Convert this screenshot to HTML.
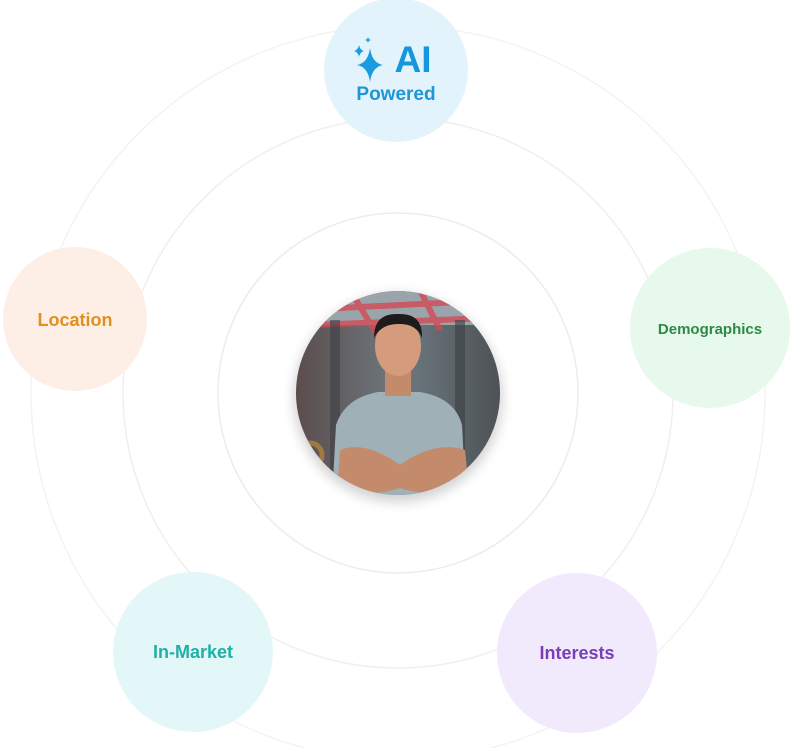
<!DOCTYPE html>
<html><head><meta charset="utf-8"><style>
html,body{margin:0;padding:0;background:#fff;}
svg{display:block}
text{font-family:"Liberation Sans",sans-serif;font-weight:bold;}
</style></head><body>
<svg width="796" height="748" viewBox="0 0 796 748" xmlns="http://www.w3.org/2000/svg">
<defs>
<filter id="sh" x="-30%" y="-30%" width="160%" height="160%"><feGaussianBlur stdDeviation="6"/></filter>
<clipPath id="cp"><circle cx="398" cy="393" r="102"/></clipPath>
<linearGradient id="bg" x1="0" y1="0" x2="1" y2="0"><stop offset="0" stop-color="#5a4a4a"/><stop offset="0.5" stop-color="#6d7a80"/><stop offset="1" stop-color="#4a4e52"/></linearGradient>
</defs>
<circle cx="398" cy="393" r="180" fill="none" stroke="#ececec" stroke-width="1.5"/>
<circle cx="398" cy="393" r="275" fill="none" stroke="#efefef" stroke-width="1.5"/>
<circle cx="398" cy="393" r="367" fill="none" stroke="#f3f3f3" stroke-width="1.5"/>

<circle cx="396" cy="70" r="72" fill="#e2f3fc"/>
<path d="M370 48 Q372 63 383 65 Q372 67 370 82 Q368 67 357 65 Q368 63 370 48Z" fill="#1a9be0"/>
<path d="M359 45 Q360 50 364 51 Q360 52 359 57 Q358 52 354 51 Q358 50 359 45Z" fill="#1a9be0"/>
<path d="M368 37 Q368.5 39.5 371 40 Q368.5 40.5 368 43 Q367.5 40.5 365 40 Q367.5 39.5 368 37Z" fill="#1a9be0"/>
<text x="413" y="72" font-size="37" fill="#1597de" text-anchor="middle">AI</text>
<text x="396" y="100" font-size="19" fill="#1e95d6" text-anchor="middle">Powered</text>

<circle cx="75" cy="319" r="72" fill="#fdeee6"/>
<text x="75" y="326" font-size="18" fill="#e0901e" text-anchor="middle">Location</text>

<circle cx="710" cy="328" r="80" fill="#e7f8ec"/>
<text x="710" y="334" font-size="15" fill="#2d8a45" text-anchor="middle">Demographics</text>

<circle cx="193" cy="652" r="80" fill="#e3f7f8"/>
<text x="193" y="658" font-size="18" fill="#1fb0a8" text-anchor="middle">In-Market</text>

<circle cx="577" cy="653" r="80" fill="#f1eafc"/>
<text x="577" y="659" font-size="18" fill="#7a3fb5" text-anchor="middle">Interests</text>

<circle cx="398" cy="398" r="104" fill="#000" opacity="0.18" filter="url(#sh)"/>
<g clip-path="url(#cp)">
<rect x="290" y="285" width="220" height="220" fill="url(#bg)"/>
<rect x="290" y="285" width="220" height="40" fill="#9aa5ab"/>
<path d="M300 310 L500 300 M310 325 L490 318 M350 290 L380 340 M420 290 L440 330" stroke="#d24a55" stroke-width="6" fill="none" opacity="0.8"/>
<rect x="330" y="320" width="10" height="160" fill="#3c3f44" opacity="0.6"/>
<rect x="455" y="320" width="10" height="160" fill="#3c3f44" opacity="0.6"/>
<circle cx="310" cy="455" r="12" fill="none" stroke="#a07a40" stroke-width="5"/>
<path d="M332 500 L336 425 Q345 398 378 392 L420 392 Q455 398 462 425 L466 500Z" fill="#9fb1b7"/>
<path d="M340 450 Q365 440 400 465 Q435 440 465 450 L468 480 Q435 500 400 488 Q365 500 338 480Z" fill="#c48a6c"/>
<rect x="385" y="362" width="26" height="34" fill="#c48a6c"/>
<ellipse cx="398" cy="346" rx="23" ry="30" fill="#d49c7c"/>
<path d="M374 338 Q374 313 398 314 Q423 313 422 338 Q416 323 398 324 Q381 324 374 338Z" fill="#1e1b1c"/>
</g>
</svg>
</body></html>
